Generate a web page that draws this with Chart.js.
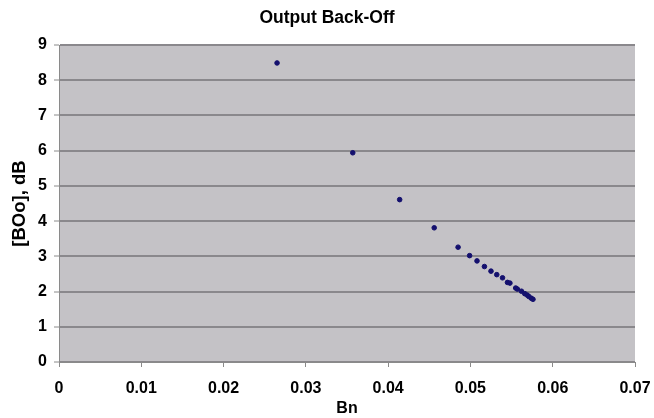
<!DOCTYPE html>
<html>
<head>
<meta charset="utf-8">
<script src="https://cdn.jsdelivr.net/npm/chart.js@4.4.0/dist/chart.umd.min.js"></script>
<style>
  html, body { margin: 0; padding: 0; background: #fff; }
  #wrap { width: 654px; height: 418px; }
</style>
</head>
<body>
<div id="wrap"><canvas id="grafico" width="654" height="418"></canvas></div>
<script>
// Bn (x) vs |BOo| in dB (y)
const bn = [0.0265, 0.0357, 0.0414, 0.0456, 0.0485, 0.0499, 0.0508, 0.0517, 0.0525, 0.0532,
  0.0539, 0.0545, 0.0548, 0.0555, 0.0557, 0.0562, 0.0566, 0.0569, 0.0571, 0.0574, 0.0576];
const boo = [8.49, 5.94, 4.61, 3.81, 3.26, 3.02, 2.87, 2.71, 2.58, 2.48,
  2.39, 2.26, 2.24, 2.10, 2.07, 2.01, 1.94, 1.90, 1.86, 1.81, 1.78];

const titulo = "Output Back-Off";
const tituloX = "Bn";
const tituloY = "[BOo], dB";

const puntos = bn.map((x, i) => ({ x: x, y: boo[i] }));

const fondo = {
  id: "fondo",
  beforeDraw(chart) {
    const a = chart.chartArea;
    const ctx = chart.ctx;
    ctx.save();
    ctx.fillStyle = "#c4c2c6";
    ctx.fillRect(a.left, a.top, a.right - a.left, a.bottom - a.top);
    ctx.restore();
  }
};

const fuente = { family: "'Liberation Sans', Arial, sans-serif", weight: "bold", size: 16 };

new Chart(document.getElementById("grafico").getContext("2d"), {
  type: "scatter",
  data: {
    datasets: [{
      data: puntos,
      backgroundColor: "#14106e",
      borderColor: "#14106e",
      pointRadius: 2.3,
      pointHoverRadius: 2.3
    }]
  },
  options: {
    responsive: false,
    animation: false,
    layout: { padding: 0 },
    plugins: {
      legend: { display: false },
      tooltip: { enabled: false },
      title: {
        display: true,
        text: titulo,
        color: "#000",
        font: { family: fuente.family, weight: "bold", size: 17.5 },
        padding: { top: 8, bottom: 16 }
      }
    },
    scales: {
      x: {
        type: "linear",
        min: 0,
        max: 0.07,
        // espacio fijo a la derecha para que el area quede como en la imagen
        afterFit: s => { s.height = 56; s.paddingLeft = 0; s.paddingRight = 19; },
        ticks: {
          stepSize: 0.01,
          color: "#000",
          font: fuente,
          padding: 12,
          callback: v => v === 0 ? "0" : v.toFixed(2)
        },
        grid: { drawOnChartArea: false, tickLength: 5, tickColor: "#8a8a8a" },
        border: { color: "#8a8a8a", width: 1 },
        title: { display: true, text: tituloX, color: "#000", font: fuente, padding: { top: 0, bottom: 0 } }
      },
      y: {
        min: 0,
        max: 9,
        afterFit: s => { s.width = 59; },
        ticks: { stepSize: 1, color: "#000", font: fuente, padding: 7 },
        grid: { color: "#8a888c", lineWidth: 2, tickLength: 5, tickColor: "#8a8a8a", tickWidth: 1 },
        border: { color: "#8a8a8a", width: 1 },
        title: {
          display: true,
          text: tituloY,
          color: "#000",
          font: { family: fuente.family, weight: "bold", size: 18.5 },
          padding: { top: 9, bottom: 0 }
        }
      }
    }
  },
  plugins: [fondo]
});
</script>
</body>
</html>
